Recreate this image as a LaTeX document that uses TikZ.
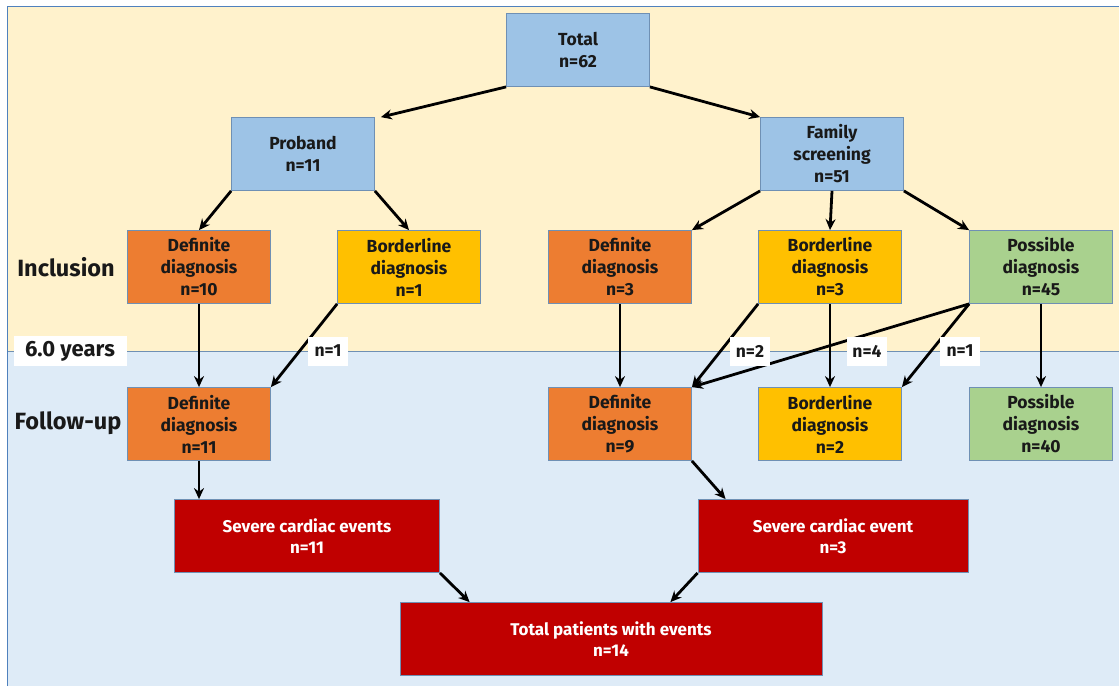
\documentclass[tikz,border=0pt]{standalone}
\usepackage{fontspec}
\setmainfont{Fira Sans}
\usepackage{xcolor}
\definecolor{TopBg}{HTML}{FFF2CC}
\definecolor{BottomBg}{HTML}{DEEBF7}
\definecolor{FrameBlue}{HTML}{4F81BD}
\definecolor{BoxEdge}{HTML}{6F90B4}
\definecolor{BlueBox}{HTML}{9DC3E6}
\definecolor{OrangeBox}{HTML}{ED7D31}
\definecolor{YellowBox}{HTML}{FFC000}
\definecolor{GreenBox}{HTML}{A9D18E}
\definecolor{EventRed}{HTML}{C00000}
\usetikzlibrary{arrows.meta,positioning}

\begin{document}
\begin{tikzpicture}[x=1pt,y=-1pt,
  every node/.style={font=\fontsize{17.5}{22}\selectfont\bfseries, align=center, text=black!90},
  box/.style={draw=BoxEdge, line width=.8pt, minimum width=143pt, minimum height=73pt, inner sep=0pt},
  evbox/.style={draw=BoxEdge, line width=.8pt, fill=EventRed, text=white, minimum height=73pt, inner sep=0pt, font=\fontsize{17}{21}\selectfont\bfseries},
  lbl/.style={fill=white, inner sep=0pt, minimum width=40pt, minimum height=29pt},
  arr/.style={-{Stealth[length=11pt,width=10pt]}, line width=2.8pt}]
  \useasboundingbox (0,0) rectangle (1119,686);
  % background bands
  \fill[TopBg] (7,6) rectangle (1119,351);
  \fill[BottomBg] (7,351) rectangle (1119,686);
  \draw[BoxEdge, line width=.6pt] (7,351) -- (1119,351);
  \draw[FrameBlue, line width=1pt] (7,686) -- (7,6) -- (1119,6);

  % side labels
  \node[font=\fontsize{23.5}{26}\selectfont\bfseries] (incl) at (66,267) {Inclusion};
  \node[font=\fontsize{23.5}{26}\selectfont\bfseries] (fup) at (68,423) {Follow-up};
  \node[fill=white, inner sep=0pt, minimum width=113pt, minimum height=30pt, font=\fontsize{22}{24}\selectfont\bfseries] (yrs) at (70,351) {6.0 years};

  % top of the tree
  \node[box, fill=BlueBox] (total) at (578,50) {Total\\n=62};
  \node[box, fill=BlueBox] (prob) at (303,154) {Proband\\n=11};
  \node[box, fill=BlueBox] (fam) at (832,154) {Family\\screening\\n=51};

  % inclusion
  \node[box, fill=OrangeBox] (defIncA) at (199,267) {Definite\\diagnosis\\n=10};
  \node[box, fill=YellowBox] (bordIncA) at (409,267) {Borderline\\diagnosis\\n=1};
  \node[box, fill=OrangeBox] (defIncB) at (620,267) {Definite\\diagnosis\\n=3};
  \node[box, fill=YellowBox] (bordIncB) at (830,267) {Borderline\\diagnosis\\n=3};
  \node[box, fill=GreenBox] (posInc) at (1041,267) {Possible\\diagnosis\\n=45};

  % follow-up
  \node[box, fill=OrangeBox] (defFuA) at (199,424) {Definite\\diagnosis\\n=11};
  \node[box, fill=OrangeBox] (defFuB) at (620,424) {Definite\\diagnosis\\n=9};
  \node[box, fill=YellowBox] (bordFuB) at (830,424) {Borderline\\diagnosis\\n=2};
  \node[box, fill=GreenBox] (posFu) at (1041,424) {Possible\\diagnosis\\n=40};

  % events
  \node[evbox, minimum width=265pt] (sevA) at (307,536) {Severe cardiac events\\n=11};
  \node[evbox, minimum width=270pt] (sevB) at (833,536) {Severe cardiac event\\n=3};
  \node[evbox, minimum width=422pt] (totEv) at (611,639) {Total patients with events\\n=14};

  % arrows
  \draw[arr] (total.south west) -- ([xshift=6pt]prob.north east);
  \draw[arr] (total.south east) -- (fam.north west);
  \draw[arr] (prob.south west) -- (defIncA.north);
  \draw[arr] (prob.south east) -- (bordIncA.north);
  \draw[arr] (fam.south west) -- (defIncB.north east);
  \draw[arr] (fam.south) -- (bordIncB.north);
  \draw[arr] (fam.south east) -- (posInc.north west);
  \draw[arr] (defIncA.south) -- (defFuA.north);
  \draw[arr] (bordIncA.south west) -- (defFuA.north east);
  \draw[arr] (defIncB.south) -- (defFuB.north);
  \draw[arr] (bordIncB.south west) -- (defFuB.north east);
  \draw[arr] (bordIncB.south) -- (bordFuB.north);
  \draw[arr] (posInc.south west) -- (defFuB.north east);
  \draw[arr] (posInc.south west) -- (bordFuB.north east);
  \draw[arr] (posInc.south) -- (posFu.north);
  \draw[arr] (defFuA.south) -- (defFuA.south |- sevA.north);
  \draw[arr] (defFuB.south east) -- ([xshift=28pt]sevB.north west);
  \draw[arr] (sevA.south east) -- ([xshift=70pt]totEv.north west);
  \draw[arr] (sevB.south west) -- ([xshift=-152pt]totEv.north east);

  % counts on the crossing arrows
  \node[lbl] (nA) at (328,351) {n=1};
  \node[lbl] (nB) at (750,351) {n=2};
  \node[lbl] (nC) at (867,351) {n=4};
  \node[lbl] (nD) at (960,351) {n=1};
\end{tikzpicture}
\end{document}
